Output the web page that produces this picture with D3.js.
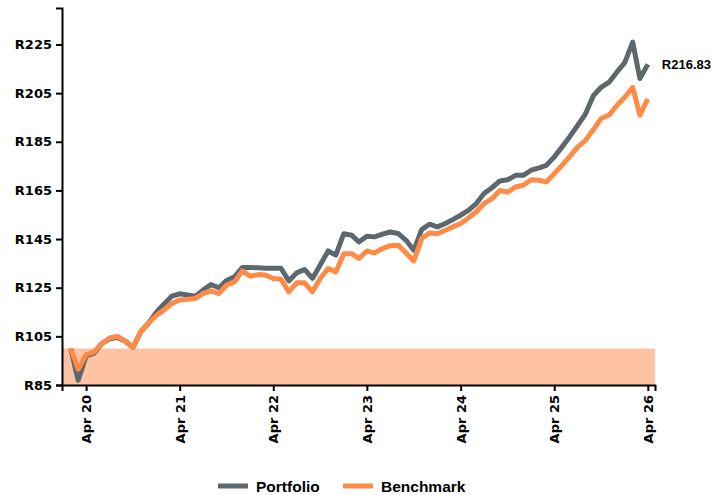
<!DOCTYPE html>
<html>
<head>
<meta charset="utf-8">
<script src="https://cdn.jsdelivr.net/npm/d3@7"></script>
<style>
  body { margin: 0; background: #fff; }
  svg { display: block; }
</style>
</head>
<body>
<script>
// monthly growth of R100, Feb 2020 - Apr 2026
var firstMonth = new Date(2020, 1, 1);
var lastMonth = new Date(2026, 3, 1);

var portfolio = [
  100, 87, 97, 98, 102, 104, 104.5, 103, 100.5, 107, 110.5,
  115, 118.5, 121.5, 122.5, 122, 121.5, 124, 126.3, 125, 128, 129.5, 133.3,
  133.3, 133.2, 133, 133, 133, 127.8, 131.1, 132.5, 128.8, 134.3, 140.1, 138.4,
  147.2, 146.6, 143.8, 146.2, 145.9, 147, 147.9, 147.3, 144.5, 140.4, 148.9, 151.1,
  150, 151.4, 153, 154.8, 156.8, 159.6, 163.7, 166.1, 168.9, 169.4, 171.2, 171.2,
  173.3, 174.3, 175.3, 178.7, 182.8, 187.2, 191.7, 196.5, 204, 207.4, 209.5, 213.6,
  217.5, 226, 211, 216.83
];

var benchmark = [
  100, 91.5, 97.5, 98.5, 102, 104.3, 105, 103, 100.5, 107, 110.5,
  113.7, 116, 118.5, 120, 120.2, 120.6, 122.6, 123.7, 122.6, 126, 127.4, 131.9,
  129.7, 130.4, 130.2, 128.8, 128.5, 123.3, 127, 127, 123.3, 128.8, 132.9, 131.5,
  139, 139, 137, 140.1, 139.3, 141.1, 142.3, 142.5, 139.3, 136, 145.2, 147.5,
  147.2, 148.6, 150, 151.4, 153.7, 156.2, 159.6, 161.6, 165, 164.3, 166.4, 167.1,
  169.4, 169.2, 168.5, 171.9, 175.3, 179, 182.8, 185.6, 190, 194.6, 196, 199.9,
  203.3, 207.4, 196, 202.6
];

var seriesNames = ["Portfolio", "Benchmark"];
var seriesColors = ["#5d686e", "#ff8b47"];
var yTicks = [85, 105, 125, 145, 165, 185, 205, 225];
var bandRange = [85, 100];

var width = 712;
var height = 495;

var months = d3.timeMonth.range(firstMonth, d3.timeMonth.offset(lastMonth, 1));

var svg = d3.select("body")
  .append("svg")
    .attr("width", width)
    .attr("height", height);

var x = d3.scaleTime()
  .domain([new Date(2019, 11, 29), new Date(2026, 3, 29)])
  .range([62, 655]);

var y = d3.scaleLinear()
  .domain([85, 240])
  .range([385, 8]);

// shaded band below R100
svg.append("rect")
  .attr("x", x.range()[0])
  .attr("y", y(bandRange[1]))
  .attr("width", x.range()[1] - x.range()[0])
  .attr("height", y(bandRange[0]) - y(bandRange[1]))
  .attr("fill", "#fec3a2");

var line = d3.line()
  .x(function(d, i) { return x(months[i]); })
  .y(function(d) { return y(d); });

[portfolio, benchmark].forEach(function(s, k) {
  svg.append("path")
    .datum(s)
    .attr("d", line)
    .attr("fill", "none")
    .attr("stroke", seriesColors[k])
    .attr("stroke-width", 5)
    .attr("stroke-linejoin", "round");
});

// axes
var yAxis = svg.append("g")
  .attr("transform", "translate(62,0)")
  .call(d3.axisLeft(y).tickValues(yTicks).tickSize(6).tickPadding(4)
    .tickFormat(function(d) { return "R" + d; }));

var xAxis = svg.append("g")
  .attr("transform", "translate(0,385)")
  .call(d3.axisBottom(x)
    .tickValues(d3.timeMonth.range(new Date(2020, 3, 1), new Date(2026, 3, 2), 12))
    .tickSize(6)
    .tickFormat(d3.timeFormat("%b %y")));

[yAxis, xAxis].forEach(function(g) {
  g.select(".domain").attr("stroke", "#000").attr("stroke-width", 2);
  g.selectAll(".tick line").attr("stroke", "#000").attr("stroke-width", 2);
  g.selectAll("text")
    .attr("fill", "#000")
    .style("font-family", "'DejaVu Sans', Verdana, sans-serif")
    .style("font-weight", "bold")
    .style("font-size", "13px");
});

xAxis.selectAll("text")
  .attr("transform", "rotate(-90)")
  .attr("text-anchor", "end")
  .attr("x", -10)
  .attr("y", 0)
  .attr("dy", "0.35em");

// last value label
svg.append("text")
  .attr("x", x(lastMonth) + 14)
  .attr("y", y(portfolio[portfolio.length - 1]))
  .attr("dy", "0.35em")
  .style("font-family", "'Liberation Sans', Arial, sans-serif")
  .style("font-weight", "bold")
  .style("font-size", "13px")
  .text("R" + portfolio[portfolio.length - 1].toFixed(2));

// legend
var legendX = [218, 343];
seriesNames.forEach(function(name, k) {
  svg.append("line")
    .attr("x1", legendX[k])
    .attr("x2", legendX[k] + 30)
    .attr("y1", 486)
    .attr("y2", 486)
    .attr("stroke", seriesColors[k])
    .attr("stroke-width", 5);
  svg.append("text")
    .attr("x", legendX[k] + 38)
    .attr("y", 486)
    .attr("dy", "0.36em")
    .style("font-family", "'Liberation Sans', Arial, sans-serif")
    .style("font-weight", "bold")
    .style("font-size", "15.5px")
    .text(name);
});
</script>
</body>
</html>
